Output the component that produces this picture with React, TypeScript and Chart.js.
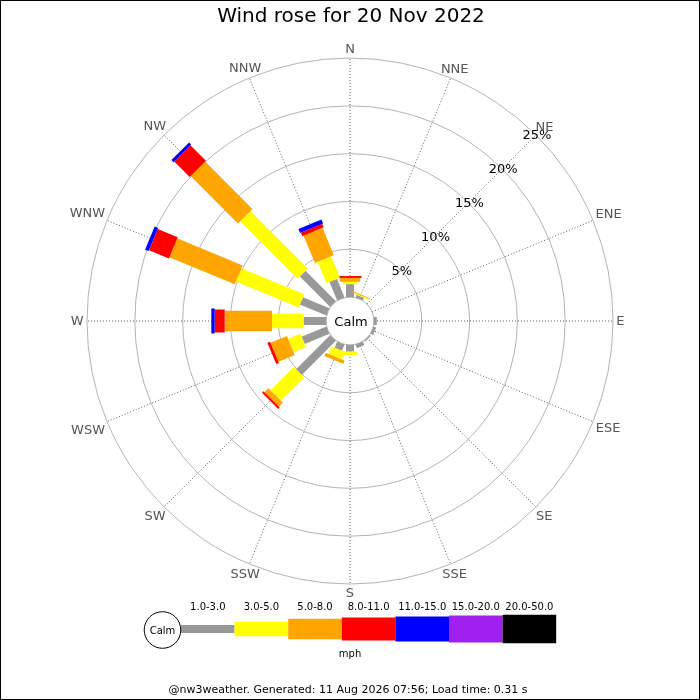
import { Chart, registerables } from 'chart.js'
import { useEffect, useRef } from 'react'

Chart.register(...registerables)

// 16 compass points, clockwise from north
const directions = ['N', 'NNE', 'NE', 'ENE', 'E', 'ESE', 'SE', 'SSE', 'S', 'SSW', 'SW', 'WSW', 'W', 'WNW', 'NW', 'NNW']
const speedBins = ['1.0-3.0', '3.0-5.0', '5.0-8.0', '8.0-11.0', '11.0-15.0', '15.0-20.0', '20.0-50.0']
const binColours = ['#999999', '#ffff00', '#ffa500', '#ff0000', '#0000ff', '#a020f0', '#000000']
const binWidths = [8, 14.5, 20.5, 23, 25, 27, 28.5]

// % of the day in each direction, one array per speed bin (mph)
const bin1to3 = [1.35, 0.3, 0, 0, 0.3, 0.3, 0.15, 0.4, 0.7, 0.7, 5.05, 2.8, 2.35, 3.0, 4.5, 2.1]
const bin3to5 = [0.25, 0.1, 0, 0, 0, 0, 0, 0, 0.35, 0.85, 3.45, 1.4, 3.3, 7.1, 8.5, 2.4]
const bin5to8 = [0.4, 0.1, 0, 0, 0, 0, 0, 0, 0, 0.35, 0.6, 1.85, 4.95, 7.4, 7.0, 3.1]
const bin8to11 = [0.2, 0, 0, 0, 0, 0, 0, 0, 0, 0, 0.2, 0.3, 1.05, 2.25, 2.3, 0.4]
const bin11to15 = [0, 0, 0, 0, 0, 0, 0, 0, 0, 0, 0, 0, 0.35, 0.4, 0.3, 0.45]
const bin15to20 = [0, 0, 0, 0, 0, 0, 0, 0, 0, 0, 0, 0, 0, 0, 0, 0]
const bin20to50 = [0, 0, 0, 0, 0, 0, 0, 0, 0, 0, 0, 0, 0, 0, 0, 0]

const rTicks = [0, 5, 10, 15, 20, 25]
const tickLabels = ['', '5%', '10%', '15%', '20%', '25%']

const titleText = 'Wind rose for 20 Nov 2022'
const footerText = '@nw3weather. Generated: 11 Aug 2026 07:56; Load time: 0.31 s'

const FONT = '"DejaVu Sans", sans-serif'

const windRosePlugin = {
	id: 'windRose',
	beforeDraw(chart: any) {
		const { ctx, width, height } = chart
		ctx.save()
		ctx.fillStyle = '#ffffff'
		ctx.fillRect(0, 0, width, height)
		ctx.restore()
	},
	afterDatasetsDraw(chart: any) {
		const ctx = chart.ctx
		const scale = chart.scales.r
		ctx.save()
		ctx.lineCap = 'butt'

		// stacked bars along each spoke
		directions.forEach((_, i) => {
			let cum = 0
			chart.data.datasets.forEach((ds: any, b: number) => {
				const v = ds.data[i]
				if (!v) return
				const from = scale.getPointPositionForValue(i, cum)
				cum += v
				const to = scale.getPointPositionForValue(i, cum)
				ctx.strokeStyle = binColours[b]
				ctx.lineWidth = binWidths[b]
				ctx.beginPath()
				ctx.moveTo(from.x, from.y)
				ctx.lineTo(to.x, to.y)
				ctx.stroke()
			})
		})

		// calm circle in the middle
		const calmR = scale.getDistanceFromCenterForValue(0)
		ctx.beginPath()
		ctx.arc(scale.xCenter, scale.yCenter, calmR, 0, Math.PI * 2)
		ctx.fillStyle = '#ffffff'
		ctx.fill()
		ctx.lineWidth = 1
		ctx.strokeStyle = '#aaaaaa'
		ctx.stroke()

		ctx.fillStyle = '#000000'
		ctx.font = `13px ${FONT}`
		ctx.textAlign = 'center'
		ctx.textBaseline = 'middle'
		ctx.fillText('Calm', scale.xCenter + 1, scale.yCenter + 2)

		// percentage labels along the NE spoke
		rTicks.forEach((v, k) => {
			if (!tickLabels[k]) return
			const p = scale.getPointPositionForValue(2, v)
			ctx.fillText(tickLabels[k], p.x + 1, p.y + 1)
		})

		// compass labels
		ctx.fillStyle = '#555555'
		directions.forEach((d, i) => {
			const a = scale.getIndexAngle(i)
			const halfW = ctx.measureText(d).width / 2
			const s = Math.sin(a)
			const dist = scale.drawingArea + 3 + 1.05 * s * s * halfW + 0.92 * Math.abs(Math.cos(a)) * 6.5
			const p = scale.getPointPosition(i, dist)
			ctx.fillText(d, p.x, p.y + 1)
		})

		// title
		ctx.fillStyle = '#000000'
		ctx.font = `20px ${FONT}`
		ctx.fillText(titleText, 351, 17)

		// speed legend
		const legX = 181
		const legW = 53.6
		const legY = 629
		speedBins.forEach((label, b) => {
			ctx.fillStyle = binColours[b]
			ctx.fillRect(legX + b * legW, legY - binWidths[b] / 2, legW, binWidths[b])
			ctx.fillStyle = '#000000'
			ctx.font = `10px ${FONT}`
			ctx.fillText(label, legX + b * legW + legW / 2, 607)
		})
		ctx.beginPath()
		ctx.arc(162.5, 630, 18.3, 0, Math.PI * 2)
		ctx.fillStyle = '#ffffff'
		ctx.fill()
		ctx.strokeStyle = '#000000'
		ctx.lineWidth = 1
		ctx.stroke()
		ctx.fillStyle = '#000000'
		ctx.fillText('Calm', 162.5, 631)
		ctx.fillText('mph', 350, 654)

		// footer
		ctx.font = `11px ${FONT}`
		ctx.fillText(footerText, 348, 690)

		// frame
		ctx.strokeStyle = '#000000'
		ctx.lineWidth = 1
		ctx.strokeRect(0.5, 0.5, chart.width - 1, chart.height - 1)
		ctx.restore()
	}
}

export default function App() {
	const canvasRef = useRef<HTMLCanvasElement | null>(null)

	useEffect(() => {
		document.body.style.margin = '0'
		if (!canvasRef.current) return
		const ctx = canvasRef.current.getContext('2d')
		if (!ctx) return

		const bins = [bin1to3, bin3to5, bin5to8, bin8to11, bin11to15, bin15to20, bin20to50]

		const chart = new Chart(ctx, {
			type: 'radar',
			data: {
				labels: directions,
				datasets: bins.map((data, b) => ({
					label: speedBins[b],
					data,
					showLine: false,
					fill: false,
					borderWidth: 0,
					pointRadius: 0,
					pointHoverRadius: 0,
					backgroundColor: 'transparent',
					borderColor: 'transparent'
				}))
			},
			options: {
				animation: false,
				responsive: true,
				maintainAspectRatio: false,
				events: [],
				layout: { padding: { top: 58, left: 87, right: 87, bottom: 116 } },
				scales: {
					r: {
						min: -2.5,
						max: 25,
						afterBuildTicks: (scale: any) => {
							scale.ticks = rTicks.map(value => ({ value }))
						},
						ticks: { display: false },
						grid: {
							circular: true,
							color: (c: any) => (c.tick && c.tick.value > 0 ? '#b4b4b4' : 'transparent'),
							lineWidth: 1
						},
						angleLines: { color: '#333333', lineWidth: 0.8, borderDash: [1, 2] },
						pointLabels: { display: false }
					}
				},
				plugins: {
					legend: { display: false },
					title: { display: false },
					tooltip: { enabled: false }
				}
			},
			plugins: [windRosePlugin]
		})

		return () => chart.destroy()
	}, [])

	return (
		<div style={{ width: 700, height: 700, position: 'relative' }}>
			<canvas ref={canvasRef} />
		</div>
	)
}
